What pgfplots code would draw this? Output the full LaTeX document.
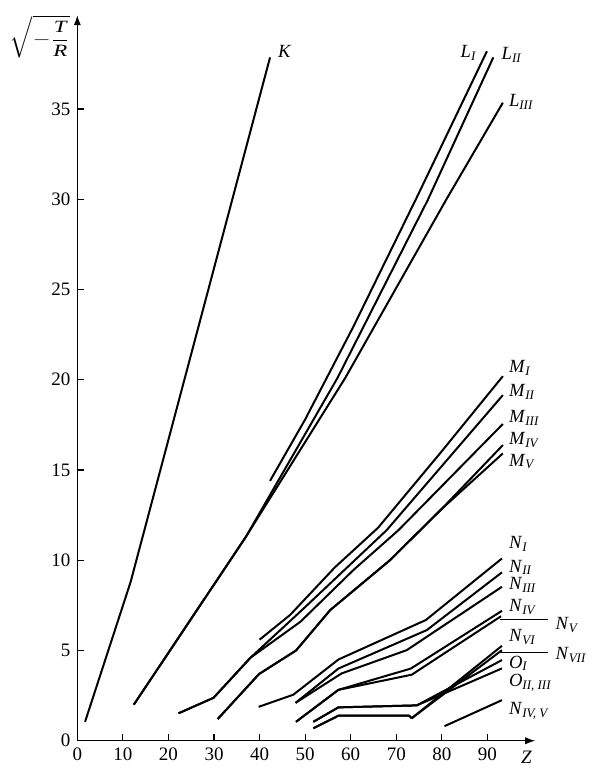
\documentclass[border=0pt]{standalone}
\usepackage{fontspec}
\setmainfont{Liberation Serif}
\usepackage{pgfplots}
\pgfplotsset{compat=1.18}
\usetikzlibrary{arrows.meta}
\newcommand{\lab}[2]{\textit{#1}\textsubscript{\textit{#2}}}
\newcommand{\lf}{\fontsize{9.3}{10}\selectfont}
\begin{document}
\begin{tikzpicture}
\begin{axis}[
  scale only axis, width=228.95pt, height=362.8pt,
  xmin=0, xmax=100.5, ymin=0, ymax=40.2,
  axis lines=left,
  axis line style={line width=0.65pt, -{Latex[length=5pt,width=3.6pt]}},
  xtick={0,10,...,90}, ytick={0,5,...,35},
  tick align=inside, major tick length=3.5pt,
  every tick/.style={black, line width=0.6pt},
  tick label style={font=\fontsize{9.5}{10}\selectfont},
  /pgf/number format/assume math mode=true,
  clip=false,
  cycle list={{black, solid, mark=none}},
  every axis plot/.append style={line width=1pt, line join=round},
]
\path (axis cs:-16.97,-2.34) rectangle (axis cs:114.73,41.04);
% K
\addplot coordinates {(1.7,1.05) (11.7,8.8) (42.3,37.86)};
% L
\addplot coordinates {(42.3,14.4) (50,17.8) (60.5,22.9) (74.5,30.1) (89.9,38.2)};
\addplot coordinates {(12.4,2.0) (37,11.3) (57.1,20.1) (76.9,29.95) (91.3,37.86)};
\addplot coordinates {(12.4,2.0) (37,11.3) (58.8,20.1) (80.9,29.95) (93.4,35.35)};
% M
\addplot coordinates {(40,5.6) (46.7,6.97) (56.5,9.6) (66,11.8) (79.6,15.92) (93.4,20.2)};
\addplot coordinates {(22.2,1.52) (29.9,2.38) (38,4.6) (49.3,7.24) (67.9,11.67) (93.4,19.15)};
\addplot coordinates {(22.2,1.52) (29.9,2.38) (38,4.6) (49,6.6) (60.6,9.46) (70.5,11.67) (93.4,17.55)};
\addplot coordinates {(30.8,1.2) (39.9,3.7) (48,5.0) (55.5,7.24) (68.6,10) (80,12.85) (93.4,16.38)};
\addplot coordinates {(30.8,1.2) (39.9,3.7) (48,5.0) (55.5,7.24) (68.6,10) (80,12.85) (93.4,15.92)};
% N
\addplot coordinates {(39.8,1.88) (47.4,2.55) (57.3,4.5) (76.5,6.69) (93.2,10.1)};
\addplot coordinates {(47.9,2.1) (57.3,4.0) (76.7,6.13) (93.2,9.33)};
\addplot coordinates {(47.9,2.1) (58,3.73) (72.3,5.02) (93.2,8.53)};
\addplot coordinates {(48,1.05) (57.3,2.82) (73.2,4.0) (93.2,7.2)};
\addplot coordinates {(48,1.05) (57.3,2.82) (73.4,3.66) (93,6.9)};
\addplot coordinates {(51.8,0.69) (57.3,1.39) (72.8,1.39) (73.4,1.25) (93.2,5.26)};
\addplot coordinates {(51.8,0.69) (57.3,1.39) (72.8,1.39) (73.4,1.25) (93.2,5.02)};
% O
\addplot coordinates {(51.8,1.05) (57.3,1.85) (74.5,1.96) (93.2,4.47)};
\addplot coordinates {(51.8,1.05) (57.3,1.85) (74.5,1.96) (93.2,4.01)};
% N IV,V
\addplot coordinates {(80.6,0.81) (93.2,2.25)};
% leaders
\addplot[black, line width=0.6pt] coordinates {(92.8,6.7) (103.4,6.7)};
\addplot[black, line width=0.6pt] coordinates {(92.8,4.88) (103.4,4.88)};
% labels
\node[anchor=west,font=\lf] at (axis cs:42.5,38.17) {\textit{K}};
\node[anchor=west,font=\lf] at (axis cs:82.6,38.1) {\lab{L}{I}};
\node[anchor=west,font=\lf] at (axis cs:91.6,38.0) {\lab{L}{II}};
\node[anchor=west,font=\lf] at (axis cs:93.2,35.4) {\lab{L}{III}};
\node[anchor=west,font=\lf] at (axis cs:93.2,20.65) {\lab{M}{I}};
\node[anchor=west,font=\lf] at (axis cs:93.2,19.33) {\lab{M}{II}};
\node[anchor=west,font=\lf] at (axis cs:93.2,17.88) {\lab{M}{III}};
\node[anchor=west,font=\lf] at (axis cs:93.2,16.66) {\lab{M}{IV}};
\node[anchor=west,font=\lf] at (axis cs:93.2,15.46) {\lab{M}{V}};
\node[anchor=west,font=\lf] at (axis cs:93.2,10.9) {\lab{N}{I}};
\node[anchor=west,font=\lf] at (axis cs:93.2,9.62) {\lab{N}{II}};
\node[anchor=west,font=\lf] at (axis cs:93.2,8.63) {\lab{N}{III}};
\node[anchor=west,font=\lf] at (axis cs:93.2,7.41) {\lab{N}{IV}};
\node[anchor=west,font=\lf] at (axis cs:103.4,6.41) {\lab{N}{V}};
\node[anchor=west,font=\lf] at (axis cs:93.2,5.75) {\lab{N}{VI}};
\node[anchor=west,font=\lf] at (axis cs:103.4,4.75) {\lab{N}{VII}};
\node[anchor=west,font=\lf] at (axis cs:93.2,4.3) {\lab{O}{I}};
\node[anchor=west,font=\lf] at (axis cs:93.2,3.2) {\lab{O}{II, III}};
\node[anchor=west,font=\lf] at (axis cs:93.2,1.65) {\lab{N}{IV, V}};
\node[font=\fontsize{9.5}{10}\selectfont] at (axis cs:98.6,-0.9) {\textit{Z}};
\node[inner sep=0pt] at (axis cs:-8.2,39.0) {\resizebox*{30pt}{21pt}{$\displaystyle\sqrt{-\frac{\textit{T}}{\textit{R}}}$}};
\end{axis}
\end{tikzpicture}
\end{document}
